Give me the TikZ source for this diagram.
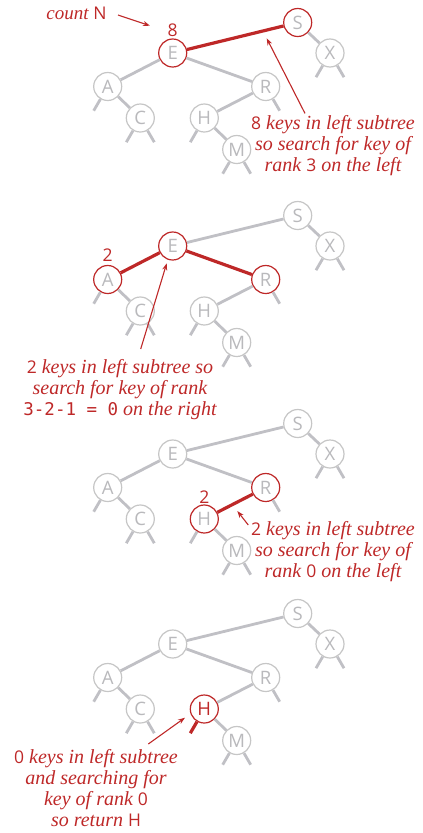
\documentclass[tikz,border=0pt]{standalone}
\usepackage{fontspec}
\setsansfont{Open Sans}
\setmonofont{DejaVu Sans Mono}
\newfontfamily\notefont{Liberation Serif}
\usetikzlibrary{arrows.meta,calc}
\definecolor{rd}{RGB}{190,40,40}
\definecolor{edgegray}{RGB}{192,192,197}
\definecolor{circgray}{RGB}{198,198,198}
\definecolor{lettergray}{RGB}{185,185,188}
\newcommand{\kd}[1]{{\sffamily\upshape\fontsize{17.5}{21}\selectfont #1}}
\newcommand{\bsttree}[2]{%
  \node[keynode, p#1S/.try] (S#1) at (297.7,#2) {S};
  \node[keynode, p#1E/.try] (E#1) at (172.7,#2+30.5) {E};
  \node[keynode, p#1X/.try] (X#1) at (330,#2+30.5) {X};
  \node[keynode, p#1A/.try] (A#1) at (107.7,#2+64) {A};
  \node[keynode, p#1R/.try] (R#1) at (265.7,#2+64) {R};
  \node[keynode, p#1C/.try] (C#1) at (140.3,#2+95.5) {C};
  \node[keynode, p#1H/.try] (H#1) at (204.3,#2+95.5) {H};
  \node[keynode, p#1M/.try] (M#1) at (236.7,#2+127) {M};
  \draw[gedge, p#1ES/.try] (E#1) -- (S#1);
  \draw[gedge] (S#1) -- (X#1);
  \draw[gedge, p#1AE/.try] (A#1) -- (E#1);
  \draw[gedge, p#1ER/.try] (E#1) -- (R#1);
  \draw[gedge] (A#1) -- (C#1);
  \draw[gedge, p#1HR/.try] (H#1) -- (R#1);
  \draw[gedge] (H#1) -- (M#1);
  \draw[gedge] (A#1.240) -- ($(A#1)+(-14,24.2)$);
  \draw[gedge] (C#1.240) -- ($(C#1)+(-14,24.2)$);
  \draw[gedge] (C#1.300) -- ($(C#1)+(14,24.2)$);
  \draw[gedge, p#1Hl/.try] (H#1.240) -- ($(H#1)+(-14,24.2)$);
  \draw[gedge] (M#1.240) -- ($(M#1)+(-14,24.2)$);
  \draw[gedge] (M#1.300) -- ($(M#1)+(14,24.2)$);
  \draw[gedge] (R#1.300) -- ($(R#1)+(14,24.2)$);
  \draw[gedge] (X#1.240) -- ($(X#1)+(-14,24.2)$);
  \draw[gedge] (X#1.300) -- ($(X#1)+(14,24.2)$);
}
\begin{document}
\begin{tikzpicture}[x=1pt,y=-1pt,
  keynode/.style={circle, draw=circgray, line width=1.2pt, fill=white, minimum size=28pt, inner sep=0pt, text=lettergray, font=\sffamily\fontsize{18.5}{18.5}\selectfont},
  hlnode/.style={draw=rd},
  gedge/.style={draw=edgegray, line width=2.8pt},
  redge/.style={draw=rd, line width=3.2pt},
  note/.style={text=rd, align=center, inner sep=0pt, font=\notefont\fontsize{20}{21}\selectfont\itshape},
  ptr/.style={draw=rd, line width=1.1pt, -{Stealth[length=7pt,width=5pt]}},
  cnt/.style={text=rd, inner sep=0pt, font=\sffamily\fontsize{17.5}{17.5}\selectfont},
  p1E/.style={hlnode}, p1S/.style={hlnode}, p1ES/.style={redge},
  p2E/.style={hlnode}, p2A/.style={hlnode}, p2R/.style={hlnode}, p2AE/.style={redge}, p2ER/.style={redge},
  p3R/.style={hlnode}, p3H/.style={hlnode}, p3HR/.style={redge},
  p4H/.style={hlnode, text=rd}, p4Hl/.style={redge},
]
\useasboundingbox (0,0) rectangle (423,833);
% panel 1
\bsttree{1}{22.5}
\node[cnt] (c1) at ([yshift=23pt]E1.center) {8};
\node[note, font=\notefont\fontsize{19}{21}\selectfont\itshape] (cn) at (76.5,13.5) {count \kd{N}};
\coordinate (cnt1) at (150,25.7);
\draw[ptr] (118,15) -- (cnt1);
\node[note] (t1) at (333,145.8) {\kd{8} keys in left subtree\\so search for key of\\rank \kd{3} on the left};
\coordinate (a1) at (266.7,38.3);
\draw[ptr] (t1.north -| 305,0) ++(0,-2) -- (a1);
% panel 2
\bsttree{2}{215.5}
\node[cnt] (c2) at ([yshift=24pt]A2.center) {2};
\node[note] (t2) at (120,389.3) {\kd{2} keys in left subtree so\\search for key of rank\\{\ttfamily\upshape\fontsize{17.5}{21}\selectfont 3-2-1 = 0} on the right};
\coordinate (a2) at (166.7,263.3);
\draw[ptr] (140.7,349) -- (a2);
% panel 3
\bsttree{3}{423.5}
\node[cnt] (c3) at ([yshift=22pt]H3.center) {2};
\node[note] (t3) at (333,551.5) {\kd{2} keys in left subtree\\so search for key of\\rank \kd{0} on the left};
\coordinate (a3) at (237.3,511);
\draw[ptr] (248.3,525) -- (a3);
% panel 4
\bsttree{4}{613.5}
\node[note] (t4) at (96,788.3) {\kd{0} keys in left subtree\\and searching for\\key of rank \kd{0}\\so return \kd{H}};
\coordinate (a4) at (185,717.7);
\draw[ptr] (148.3,744) -- (a4);
\end{tikzpicture}
\end{document}
